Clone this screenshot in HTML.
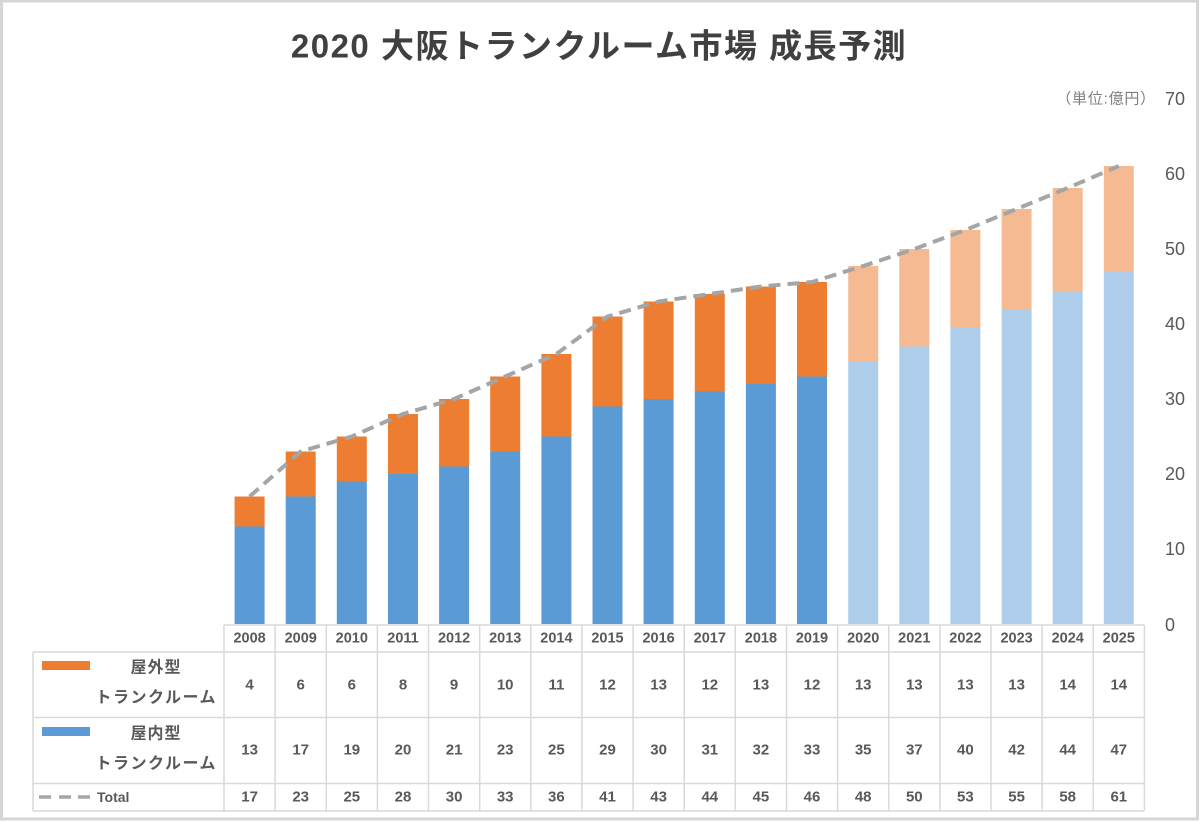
<!DOCTYPE html>
<html><head><meta charset="utf-8"><style>
html,body{margin:0;padding:0;background:#fff;}
svg{display:block;}
text{font-family:"Liberation Sans","Noto Sans CJK JP",sans-serif;}
</style></head><body>
<svg width="1200" height="822" viewBox="0 0 1200 822" xmlns="http://www.w3.org/2000/svg">
<rect x="0" y="0" width="1200" height="822" fill="#fff"/>
<rect x="1.5" y="1" width="1196" height="818" fill="none" stroke="#d6d6d6" stroke-width="3"/>

<text x="599" y="46" text-anchor="middle" dominant-baseline="central" font-size="33" font-weight="bold" letter-spacing="1.5" fill="#404040">2020 大阪トランクルーム市場 成長予測</text>

<text x="1156" y="99" text-anchor="end" dominant-baseline="central" font-size="15" letter-spacing="0.8" fill="#7f7f7f">（単位:億円）</text>
<g font-size="18" fill="#595959" dominant-baseline="central">
<text x="1165" y="99">70</text>
<text x="1165" y="174">60</text>
<text x="1165" y="249">50</text>
<text x="1165" y="324">40</text>
<text x="1165" y="399">30</text>
<text x="1165" y="474">20</text>
<text x="1165" y="549">10</text>
<text x="1165" y="625">0</text>
</g>

<!-- bars -->
<g>
<rect x="234.6" y="526.5" width="30" height="97.5" fill="#5B9BD5"/><rect x="234.6" y="496.5" width="30" height="30" fill="#ED7D31"/>
<rect x="285.7" y="496.5" width="30" height="127.5" fill="#5B9BD5"/><rect x="285.7" y="451.5" width="30" height="45" fill="#ED7D31"/>
<rect x="336.8" y="481.5" width="30" height="142.5" fill="#5B9BD5"/><rect x="336.8" y="436.5" width="30" height="45" fill="#ED7D31"/>
<rect x="388.0" y="474" width="30" height="150" fill="#5B9BD5"/><rect x="388.0" y="414" width="30" height="60" fill="#ED7D31"/>
<rect x="439.1" y="466.5" width="30" height="157.5" fill="#5B9BD5"/><rect x="439.1" y="399" width="30" height="67.5" fill="#ED7D31"/>
<rect x="490.2" y="451.5" width="30" height="172.5" fill="#5B9BD5"/><rect x="490.2" y="376.5" width="30" height="75" fill="#ED7D31"/>
<rect x="541.4" y="436.5" width="30" height="187.5" fill="#5B9BD5"/><rect x="541.4" y="354" width="30" height="82.5" fill="#ED7D31"/>
<rect x="592.5" y="406.5" width="30" height="217.5" fill="#5B9BD5"/><rect x="592.5" y="316.5" width="30" height="90" fill="#ED7D31"/>
<rect x="643.6" y="399" width="30" height="225" fill="#5B9BD5"/><rect x="643.6" y="301.5" width="30" height="97.5" fill="#ED7D31"/>
<rect x="694.8" y="391.5" width="30" height="232.5" fill="#5B9BD5"/><rect x="694.8" y="294" width="30" height="97.5" fill="#ED7D31"/>
<rect x="745.9" y="384" width="30" height="240" fill="#5B9BD5"/><rect x="745.9" y="286.5" width="30" height="97.5" fill="#ED7D31"/>
<rect x="797.0" y="376.5" width="30" height="247.5" fill="#5B9BD5"/><rect x="797.0" y="282" width="30" height="94.5" fill="#ED7D31"/>
<rect x="848.2" y="361.5" width="30" height="262.5" fill="#AECDEB"/><rect x="848.2" y="266" width="30" height="95.5" fill="#F5BA91"/>
<rect x="899.3" y="346.5" width="30" height="277.5" fill="#AECDEB"/><rect x="899.3" y="249" width="30" height="97.5" fill="#F5BA91"/>
<rect x="950.4" y="328" width="30" height="296" fill="#AECDEB"/><rect x="950.4" y="230" width="30" height="98" fill="#F5BA91"/>
<rect x="1001.6" y="310" width="30" height="314" fill="#AECDEB"/><rect x="1001.6" y="209" width="30" height="101" fill="#F5BA91"/>
<rect x="1052.7" y="291" width="30" height="333" fill="#AECDEB"/><rect x="1052.7" y="188" width="30" height="103" fill="#F5BA91"/>
<rect x="1103.8" y="271.5" width="30" height="352.5" fill="#AECDEB"/><rect x="1103.8" y="166" width="30" height="105.5" fill="#F5BA91"/>
</g>

<polyline fill="none" stroke="#A5A5A5" stroke-width="4" stroke-dasharray="12 7" stroke-linejoin="round"
points="249.6,496.5 300.7,451.5 351.8,436.5 403.0,414 454.1,399 505.2,376.5 556.4,354 607.5,316.5 658.6,301.5 709.8,294 760.9,286.5 812.0,282 863.2,266 914.3,249 965.4,230 1016.6,209 1067.7,188 1118.8,166"/>

<!-- table grid -->
<g stroke="#d9d9d9" stroke-width="1.5" fill="none">
<line x1="224" y1="625" x2="1144.4" y2="625"/>
<line x1="33" y1="652" x2="1144.4" y2="652"/>
<line x1="33" y1="717.5" x2="1144.4" y2="717.5"/>
<line x1="33" y1="783.5" x2="1144.4" y2="783.5"/>
<line x1="33" y1="811" x2="1144.4" y2="811"/>
<line x1="33" y1="652" x2="33" y2="811"/>
<line x1="224" y1="625" x2="224" y2="811"/>
<line x1="275.1" y1="625" x2="275.1" y2="811"/>
<line x1="326.3" y1="625" x2="326.3" y2="811"/>
<line x1="377.4" y1="625" x2="377.4" y2="811"/>
<line x1="428.5" y1="625" x2="428.5" y2="811"/>
<line x1="479.7" y1="625" x2="479.7" y2="811"/>
<line x1="530.8" y1="625" x2="530.8" y2="811"/>
<line x1="581.9" y1="625" x2="581.9" y2="811"/>
<line x1="633.1" y1="625" x2="633.1" y2="811"/>
<line x1="684.2" y1="625" x2="684.2" y2="811"/>
<line x1="735.3" y1="625" x2="735.3" y2="811"/>
<line x1="786.5" y1="625" x2="786.5" y2="811"/>
<line x1="837.6" y1="625" x2="837.6" y2="811"/>
<line x1="888.7" y1="625" x2="888.7" y2="811"/>
<line x1="939.9" y1="625" x2="939.9" y2="811"/>
<line x1="991.0" y1="625" x2="991.0" y2="811"/>
<line x1="1042.1" y1="625" x2="1042.1" y2="811"/>
<line x1="1093.3" y1="625" x2="1093.3" y2="811"/>
<line x1="1144.4" y1="625" x2="1144.4" y2="811"/>
</g>

<!-- legend cells -->
<rect x="42" y="661" width="48" height="9" fill="#ED7D31"/>
<rect x="42" y="727" width="48" height="9" fill="#5B9BD5"/>
<g fill="#595959" font-size="16" font-weight="bold" dominant-baseline="central">
<text x="156" y="668" text-anchor="middle" letter-spacing="1">屋外型</text>
<text x="217" y="698" text-anchor="end" letter-spacing="1.5">トランクルーム</text>
<text x="156" y="734" text-anchor="middle" letter-spacing="1">屋内型</text>
<text x="217" y="764" text-anchor="end" letter-spacing="1.5">トランクルーム</text>
</g>
<g stroke="#A5A5A5" stroke-width="3.5">
<line x1="39" y1="797" x2="51" y2="797"/>
<line x1="59" y1="797" x2="71" y2="797"/>
<line x1="78" y1="797" x2="90" y2="797"/>
</g>
<text x="97" y="797" dominant-baseline="central" font-size="14" font-weight="bold" fill="#595959">Total</text>

<!-- years -->
<g fill="#595959" font-size="14.5" font-weight="bold" text-anchor="middle" dominant-baseline="central">
<text x="249.6" y="638.5">2008</text><text x="300.7" y="638.5">2009</text><text x="351.8" y="638.5">2010</text><text x="403.0" y="638.5">2011</text><text x="454.1" y="638.5">2012</text><text x="505.2" y="638.5">2013</text><text x="556.4" y="638.5">2014</text><text x="607.5" y="638.5">2015</text><text x="658.6" y="638.5">2016</text><text x="709.8" y="638.5">2017</text><text x="760.9" y="638.5">2018</text><text x="812.0" y="638.5">2019</text><text x="863.2" y="638.5">2020</text><text x="914.3" y="638.5">2021</text><text x="965.4" y="638.5">2022</text><text x="1016.6" y="638.5">2023</text><text x="1067.7" y="638.5">2024</text><text x="1118.8" y="638.5">2025</text>
</g>
<!-- outdoor row -->
<g fill="#595959" font-size="15" font-weight="bold" text-anchor="middle" dominant-baseline="central">
<text x="249.6" y="685">4</text><text x="300.7" y="685">6</text><text x="351.8" y="685">6</text><text x="403.0" y="685">8</text><text x="454.1" y="685">9</text><text x="505.2" y="685">10</text><text x="556.4" y="685">11</text><text x="607.5" y="685">12</text><text x="658.6" y="685">13</text><text x="709.8" y="685">12</text><text x="760.9" y="685">13</text><text x="812.0" y="685">12</text><text x="863.2" y="685">13</text><text x="914.3" y="685">13</text><text x="965.4" y="685">13</text><text x="1016.6" y="685">13</text><text x="1067.7" y="685">14</text><text x="1118.8" y="685">14</text>
</g>
<!-- indoor row -->
<g fill="#595959" font-size="15" font-weight="bold" text-anchor="middle" dominant-baseline="central">
<text x="249.6" y="750">13</text><text x="300.7" y="750">17</text><text x="351.8" y="750">19</text><text x="403.0" y="750">20</text><text x="454.1" y="750">21</text><text x="505.2" y="750">23</text><text x="556.4" y="750">25</text><text x="607.5" y="750">29</text><text x="658.6" y="750">30</text><text x="709.8" y="750">31</text><text x="760.9" y="750">32</text><text x="812.0" y="750">33</text><text x="863.2" y="750">35</text><text x="914.3" y="750">37</text><text x="965.4" y="750">40</text><text x="1016.6" y="750">42</text><text x="1067.7" y="750">44</text><text x="1118.8" y="750">47</text>
</g>
<!-- total row -->
<g fill="#595959" font-size="15" font-weight="bold" text-anchor="middle" dominant-baseline="central">
<text x="249.6" y="797">17</text><text x="300.7" y="797">23</text><text x="351.8" y="797">25</text><text x="403.0" y="797">28</text><text x="454.1" y="797">30</text><text x="505.2" y="797">33</text><text x="556.4" y="797">36</text><text x="607.5" y="797">41</text><text x="658.6" y="797">43</text><text x="709.8" y="797">44</text><text x="760.9" y="797">45</text><text x="812.0" y="797">46</text><text x="863.2" y="797">48</text><text x="914.3" y="797">50</text><text x="965.4" y="797">53</text><text x="1016.6" y="797">55</text><text x="1067.7" y="797">58</text><text x="1118.8" y="797">61</text>
</g>
</svg>
</body></html>
